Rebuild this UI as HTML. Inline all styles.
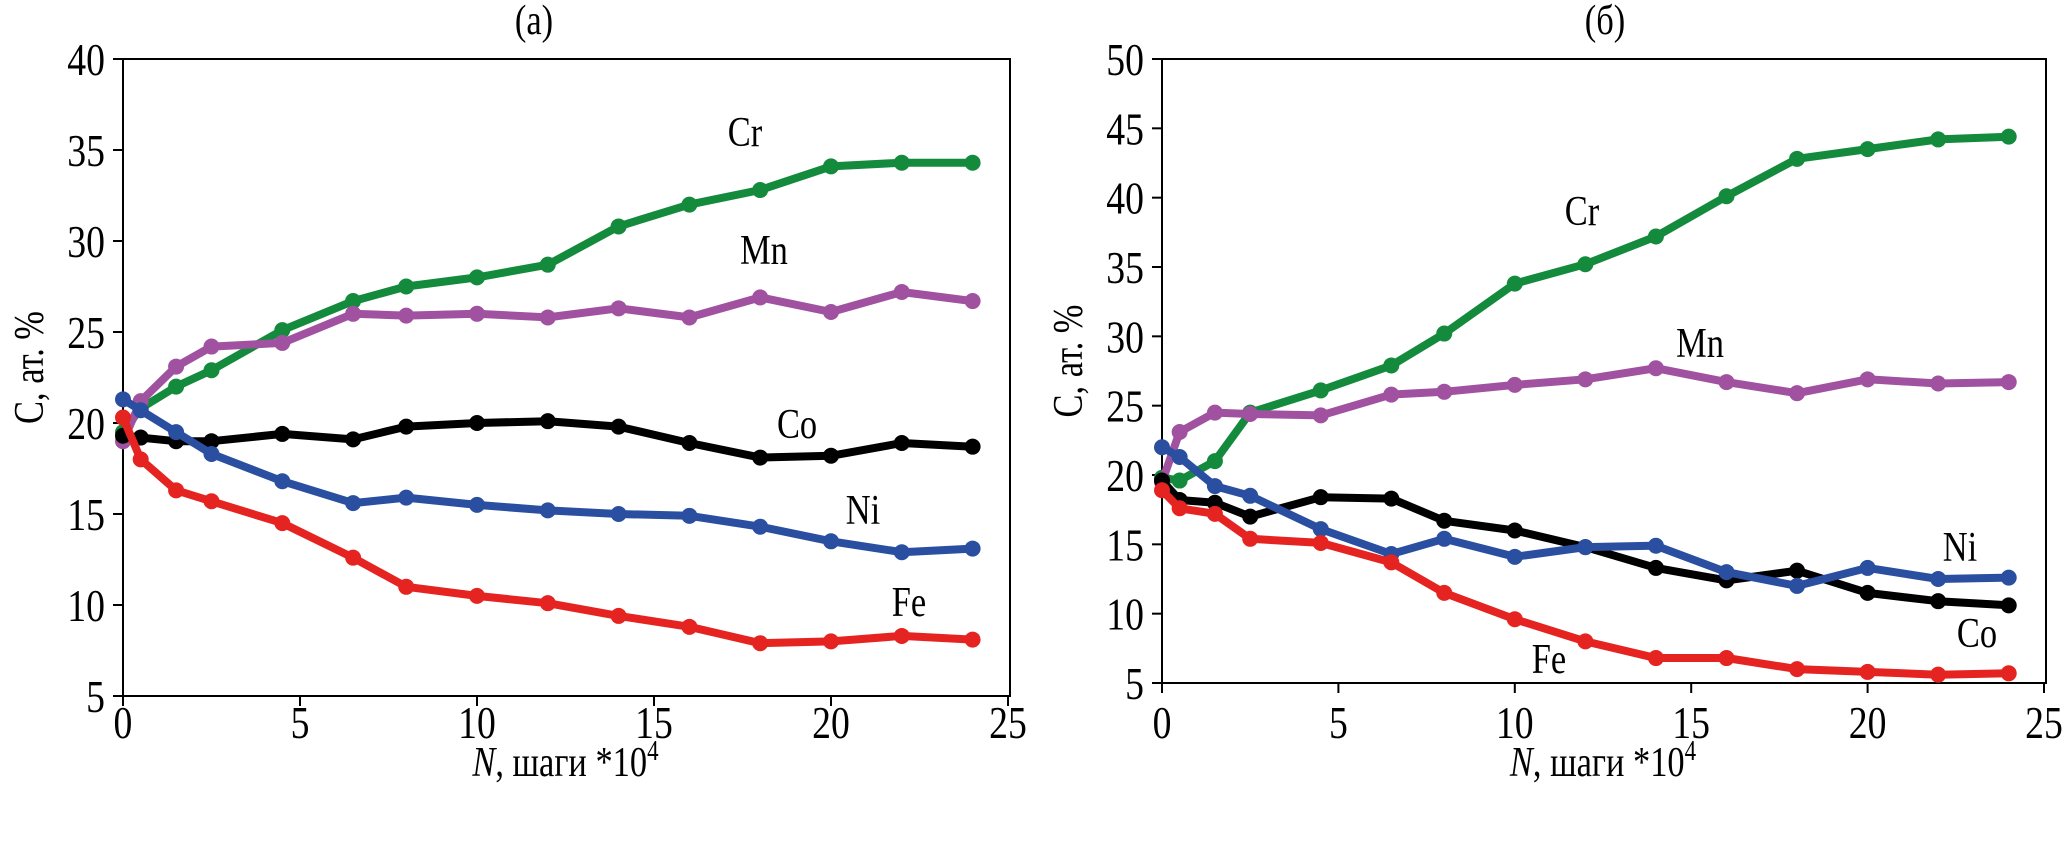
<!DOCTYPE html>
<html><head><meta charset="utf-8"><style>
body{margin:0;background:#fff;}
svg{display:block;font-family:"Liberation Serif",serif;}
</style></head><body>
<svg id="chart" width="2067" height="852" viewBox="0 0 2067 852"></svg>
<script>
const xSteps = [0, 0.5, 1.5, 2.5, 4.5, 6.5, 8, 10, 12, 14, 16, 18, 20, 22, 24];
const aCr = [19.5, 20.8, 22, 22.9, 25.1, 26.7, 27.5, 28, 28.7, 30.8, 32, 32.8, 34.1, 34.3, 34.3];
const aMn = [19, 21.2, 23.1, 24.2, 24.4, 26, 25.9, 26, 25.8, 26.3, 25.8, 26.9, 26.1, 27.2, 26.7];
const aCo = [19.3, 19.2, 19.0, 19.0, 19.4, 19.1, 19.8, 20.0, 20.1, 19.8, 18.9, 18.1, 18.2, 18.9, 18.7];
const aNi = [21.3, 20.7, 19.5, 18.3, 16.8, 15.6, 15.9, 15.5, 15.2, 15.0, 14.9, 14.3, 13.5, 12.9, 13.1];
const aFe = [20.3, 18.0, 16.3, 15.7, 14.5, 12.6, 11.0, 10.5, 10.1, 9.4, 8.8, 7.9, 8.0, 8.3, 8.1];
const bCr = [19.8, 19.6, 21.0, 24.5, 26.1, 27.9, 30.2, 33.8, 35.2, 37.2, 40.1, 42.8, 43.5, 44.2, 44.4];
const bMn = [19.5, 23.1, 24.5, 24.4, 24.3, 25.8, 26.0, 26.5, 26.9, 27.7, 26.7, 25.9, 26.9, 26.6, 26.7];
const bCo = [19.6, 18.2, 18.0, 17.0, 18.4, 18.3, 16.7, 16.0, 14.8, 13.3, 12.4, 13.1, 11.5, 10.9, 10.6];
const bNi = [22.0, 21.3, 19.2, 18.5, 16.1, 14.3, 15.4, 14.1, 14.8, 14.9, 13.0, 12.0, 13.3, 12.5, 12.6];
const bFe = [18.9, 17.6, 17.2, 15.4, 15.1, 13.7, 11.5, 9.6, 8.0, 6.8, 6.8, 6.0, 5.8, 5.6, 5.7];
const xTicks = [0, 5, 10, 15, 20, 25];
const aYTicks = [5, 10, 15, 20, 25, 30, 35, 40];
const bYTicks = [5, 10, 15, 20, 25, 30, 35, 40, 45, 50];

const NS = "http://www.w3.org/2000/svg";
const svg = document.getElementById('chart');
const SX = 0.82;
function mk(tag, attrs, parent) {
  const e = document.createElementNS(NS, tag);
  for (const k in attrs) e.setAttribute(k, attrs[k]);
  (parent || svg).appendChild(e);
  return e;
}
function txt(x, y, size, anchor, parent) {
  return mk('text', {x:(x / SX).toFixed(1), y:y, 'font-size':size, 'text-anchor':anchor, transform:`scale(${SX},1)`}, parent);
}
const colors = {Cr:'#138a3c', Mn:'#a052a0', Co:'#000000', Ni:'#2a4fa0', Fe:'#e52421'};

function panel(cfg) {
  const g = mk('g', {});
  
  
  const xs = v => cfg.L + (v - 0) / 25 * (cfg.R - cfg.L);
  const ys = v => cfg.B - (v - cfg.ymin) / (cfg.ymax - cfg.ymin) * (cfg.B - cfg.T);
  const box = mk('rect', {x:cfg.L, y:cfg.T, width:cfg.R - cfg.L + 2, height:cfg.B - cfg.T, fill:'none', stroke:'#000', 'stroke-width':2}, g);
  
  
  xTicks.forEach(t => {
    const x = xs(t);
    const tk = mk('line', {x1:x, x2:x, y1:cfg.B, y2:cfg.B + 10, stroke:'#000', 'stroke-width':2}, g);
    
    
    const lb = txt(x, 738, 46, 'middle', g);
    lb.textContent = t;
    
    
  });
  cfg.yTicks.forEach(t => {
    const y = ys(t);
    const tk = mk('line', {x1:cfg.L - 10, x2:cfg.L, y1:y, y2:y, stroke:'#000', 'stroke-width':2}, g);
    
    
    const lb = txt(cfg.L - 18, y + 16, 46, 'end', g);
    lb.textContent = t;
    
    
  });
  const xt = txt((cfg.L + cfg.R) / 2, 776, 42, 'middle', g);
  xt.innerHTML = '<tspan font-style="italic">N</tspan>, шаги *10<tspan font-size="28" dy="-16">4</tspan>';
  
  
  const yt = mk('text', {x:0, y:0, 'font-size':42, 'text-anchor':'middle', transform:`translate(${cfg.L - 80},${(cfg.T + cfg.B) / 2 - 10}) rotate(-90) scale(${SX},1)`}, g);
  yt.textContent = 'C, ат. %';
  
  
  const tt = txt(cfg.titleX, 34, 42, 'middle', g);
  tt.textContent = cfg.title;
  
  
  cfg.series.forEach(s => {
    const sg = mk('g', {}, g);
    
    
    const pts = s.vals.map((v, i) => xs(xSteps[i]).toFixed(1) + ',' + ys(v).toFixed(1)).join(' ');
    const pl = mk('polyline', {points:pts, fill:'none', stroke:colors[s.key], 'stroke-width':8, 'stroke-linejoin':'round'}, sg);
    
    
    s.vals.forEach((v, i) => {
      const c = mk('circle', {cx:xs(xSteps[i]), cy:ys(v), r:8, fill:colors[s.key]}, sg);
      
      
    });
    const lb = txt(s.lx, s.ly, 42, 'middle', sg);
    lb.textContent = s.key;
    
    
  });
}

panel({name:'panel-a', title:'(a)', titleX:534, L:123, R:1008, T:59, B:696, ymin:5, ymax:40, yTicks:aYTicks,
  series:[
    {key:'Cr', vals:aCr, lx:745, ly:146},
    {key:'Mn', vals:aMn, lx:764, ly:264},
    {key:'Co', vals:aCo, lx:797, ly:438},
    {key:'Ni', vals:aNi, lx:863, ly:524},
    {key:'Fe', vals:aFe, lx:909, ly:616}
  ]});
panel({name:'panel-b', title:'(б)', titleX:1605, L:1162, R:2044, T:59, B:683, ymin:5, ymax:50, yTicks:bYTicks,
  series:[
    {key:'Cr', vals:bCr, lx:1582, ly:225},
    {key:'Mn', vals:bMn, lx:1700, ly:357},
    {key:'Co', vals:bCo, lx:1977, ly:647},
    {key:'Ni', vals:bNi, lx:1960, ly:561},
    {key:'Fe', vals:bFe, lx:1549, ly:673}
  ]});
</script>
</body></html>
